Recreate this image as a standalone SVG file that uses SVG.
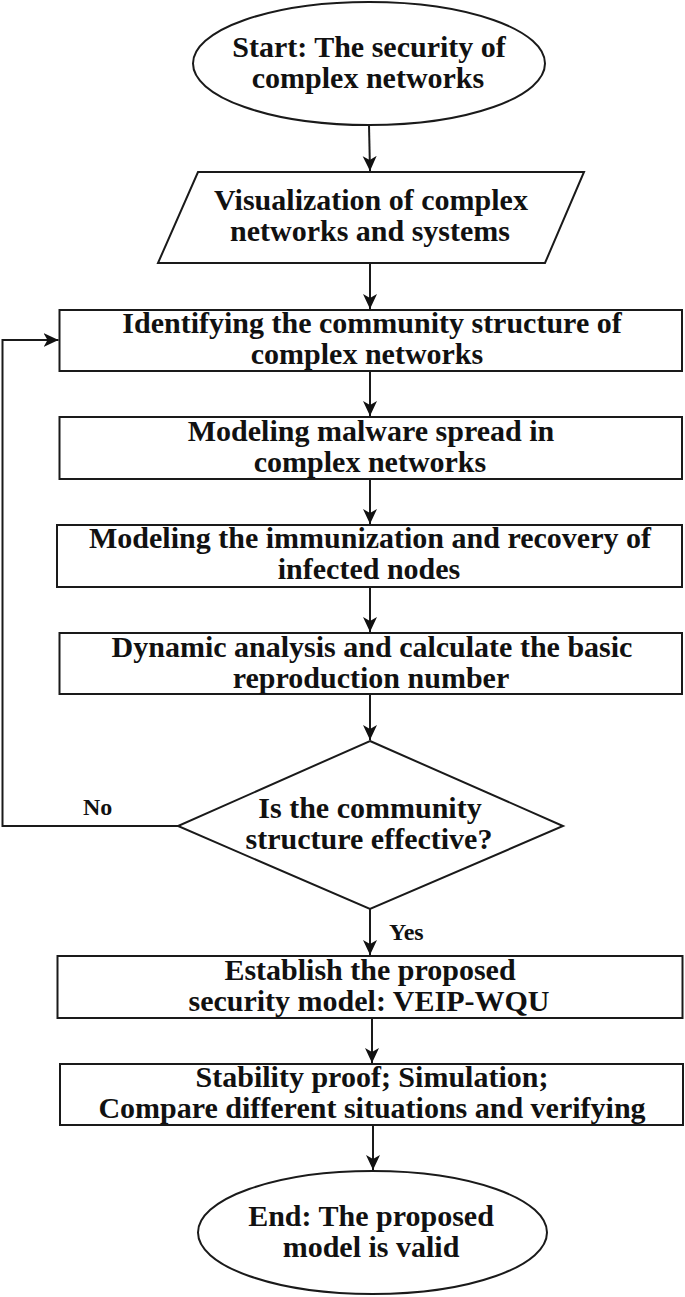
<svg xmlns="http://www.w3.org/2000/svg" width="685" height="1297" viewBox="0 0 685 1297">
  <style>
    .shape { fill: #ffffff; stroke: #1a1a1a; stroke-width: 2; }
    .conn { fill: none; stroke: #1a1a1a; stroke-width: 2; }
    .t { font-family: "Liberation Serif", "Times New Roman", serif; font-weight: bold; font-size: 30px; fill: #111111; text-anchor: middle; }
    .lbl { font-family: "Liberation Serif", "Times New Roman", serif; font-weight: bold; font-size: 24px; fill: #111111; }
  </style>
  <defs>
    <marker id="arrow" viewBox="0 0 16 16" refX="15" refY="8" markerWidth="16" markerHeight="16" markerUnits="userSpaceOnUse" orient="auto">
      <path d="M0,1 L15,8 L0,15 L4,8 Z" fill="#111111"/>
    </marker>
  </defs>
  <rect width="685" height="1297" fill="#ffffff"/>

  <g id="start">
    <ellipse class="shape" cx="369" cy="63.5" rx="176" ry="61.5"/>
    <text class="t" x="369" y="57">Start: The security of</text>
    <text class="t" x="368" y="88">complex networks</text>
  </g>

  <g id="visualization">
    <polygon class="shape" points="198,172 584,172 545,263 158,263"/>
    <text class="t" x="371" y="210">Visualization of complex</text>
    <text class="t" x="370" y="241">networks and systems</text>
  </g>

  <g id="identify">
    <rect class="shape" x="59.5" y="310" width="622.5" height="61"/>
    <text class="t" x="372" y="333">Identifying the community structure of</text>
    <text class="t" x="367" y="364">complex networks</text>
  </g>

  <g id="malware">
    <rect class="shape" x="59.5" y="417" width="622.5" height="62"/>
    <text class="t" x="371" y="441">Modeling malware spread in</text>
    <text class="t" x="370" y="472">complex networks</text>
  </g>

  <g id="immunization">
    <rect class="shape" x="57" y="525" width="625" height="62"/>
    <text class="t" x="370" y="548">Modeling the immunization and recovery of</text>
    <text class="t" x="369" y="579">infected nodes</text>
  </g>

  <g id="dynamic">
    <rect class="shape" x="59.5" y="633" width="622.5" height="61"/>
    <text class="t" x="372" y="657">Dynamic analysis and calculate the basic</text>
    <text class="t" x="371" y="688">reproduction number</text>
  </g>

  <g id="decision">
    <polygon class="shape" points="370,741 563,826 370,909 178,826"/>
    <text class="t" x="370" y="818">Is the community</text>
    <text class="t" x="369" y="849">structure effective?</text>
  </g>

  <g id="establish">
    <rect class="shape" x="57.5" y="956" width="625" height="62"/>
    <text class="t" x="370" y="980">Establish the proposed</text>
    <text class="t" x="369" y="1011">security model: VEIP-WQU</text>
  </g>

  <g id="stability">
    <rect class="shape" x="60" y="1064" width="623" height="61"/>
    <text class="t" x="372" y="1087">Stability proof; Simulation;</text>
    <text class="t" x="372" y="1118">Compare different situations and verifying</text>
  </g>

  <g id="end">
    <ellipse class="shape" cx="372.5" cy="1232.5" rx="174.5" ry="61.5"/>
    <text class="t" x="371" y="1226">End: The proposed</text>
    <text class="t" x="371" y="1257">model is valid</text>
  </g>

  <g id="connectors">
    <line class="conn" x1="369" y1="125" x2="370" y2="171" marker-end="url(#arrow)"/>
    <line class="conn" x1="370" y1="263" x2="370" y2="309" marker-end="url(#arrow)"/>
    <line class="conn" x1="370" y1="371" x2="370" y2="416" marker-end="url(#arrow)"/>
    <line class="conn" x1="370" y1="479" x2="370" y2="524" marker-end="url(#arrow)"/>
    <line class="conn" x1="370" y1="587" x2="370" y2="632" marker-end="url(#arrow)"/>
    <line class="conn" x1="370" y1="694" x2="370" y2="740" marker-end="url(#arrow)"/>
    <line class="conn" x1="370" y1="909" x2="370" y2="955" marker-end="url(#arrow)"/>
    <line class="conn" x1="372" y1="1018" x2="372" y2="1063" marker-end="url(#arrow)"/>
    <line class="conn" x1="373" y1="1125" x2="373" y2="1170" marker-end="url(#arrow)"/>
    <polyline class="conn" points="178,826 2.5,826 2.5,340 58.5,340" marker-end="url(#arrow)"/>
    <text class="lbl" x="83" y="815">No</text>
    <text class="lbl" x="389" y="940">Yes</text>
  </g>
</svg>
